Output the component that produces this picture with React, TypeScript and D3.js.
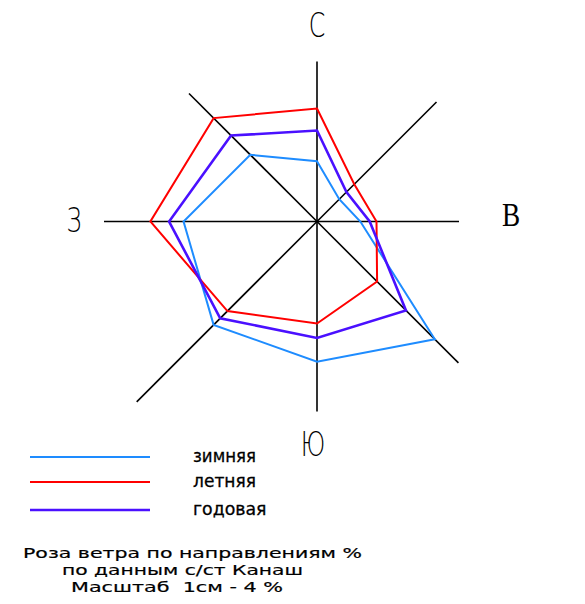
import * as d3 from "d3";

// направления румбов, по часовой стрелке от севера
const directions = ["С", "СВ", "В", "ЮВ", "Ю", "ЮЗ", "З", "СЗ"];

// повторяемость ветра, %
const winter = [7.1, 3.7, 5.1, 19.6, 16.5, 17.2, 15.7, 11.1];
const summer = [13.3, 6.2, 7.0, 10.0, 12.0, 14.9, 19.6, 17.2];
const annual = [10.7, 4.9, 6.2, 14.8, 13.7, 16.1, 17.4, 14.3];

const seriesNames = ["зимняя", "летняя", "годовая"];
const seriesColors = ["#1e8cff", "#ff0000", "#4a10ff"];
const seriesWidths = [2, 2, 2.6];

// длина осей на чертеже, px
const axisLen = [160, 169, 142, 200, 190, 255, 213, 181];

const titleLines = [
  "Роза ветра по направлениям %",
  "по данным с/ст Канаш",
  "Масштаб  1см - 4 %",
];

export default function App() {
  const w = 585,
    h = 604,
    cx = 317,
    cy = 221.5;

  const r = d3.scaleLinear().domain([0, 20]).range([0, 170]);
  const angle = d3
    .scalePoint<string>()
    .domain(directions)
    .range([0, (2 * Math.PI * 7) / 8]);

  const line = d3
    .lineRadial<number>()
    .angle((_, i) => angle(directions[i])!)
    .radius((d) => r(d))
    .curve(d3.curveLinearClosed);

  const series = [winter, summer, annual];

  const labels = [
    { t: "С", x: 317, y: 26, font: "DejaVu Sans", sx: 0.72 },
    { t: "В", x: 511, y: 215, font: "Liberation Serif", sx: 0.8 },
    { t: "Ю", x: 313, y: 445, font: "DejaVu Sans", sx: 0.72 },
    { t: "З", x: 74, y: 221, font: "DejaVu Sans", sx: 0.72 },
  ];

  const legendY = [457, 482, 510];
  const titleSpans = [
    { x: 23, y: 558, len: 339 },
    { x: 62, y: 575, len: 241 },
    { x: 71, y: 592, len: 212 },
  ];

  return (
    <svg
      width={w}
      height={h}
      style={{ position: "absolute", left: 0, top: 0, background: "#fff" }}
    >
      <g transform={`translate(${cx},${cy})`}>
        {directions.map((d, i) => {
          const a = angle(d)!;
          return (
            <line
              key={d}
              x1={0}
              y1={0}
              x2={Math.sin(a) * axisLen[i]}
              y2={-Math.cos(a) * axisLen[i]}
              stroke="#000"
              strokeWidth={1.6}
            />
          );
        })}
        {series.map((s, i) => (
          <path
            key={seriesNames[i]}
            d={line(s)!}
            fill="none"
            stroke={seriesColors[i]}
            strokeWidth={seriesWidths[i]}
            strokeLinejoin="miter"
          />
        ))}
      </g>

      {labels.map((l) => (
        <text
          key={l.t}
          transform={`translate(${l.x},${l.y}) scale(${l.sx},1)`}
          textAnchor="middle"
          dominantBaseline="central"
          fontFamily={l.font}
          fontWeight={l.font === "DejaVu Sans" ? 200 : 400}
          fontSize={l.font === "DejaVu Sans" ? 33 : 34}
          fill="#000"
        >
          {l.t}
        </text>
      ))}

      {seriesNames.map((n, i) => (
        <g key={n}>
          <line
            x1={30}
            x2={150}
            y1={legendY[i]}
            y2={legendY[i]}
            stroke={seriesColors[i]}
            strokeWidth={seriesWidths[i]}
          />
          <text
            x={193}
            y={legendY[i] + 5}
            fontFamily="DejaVu Sans"
            fontSize={17}
            fill="#000"
            stroke="#000"
            strokeWidth={0.3}
            textLength={n.length * 10.5}
            lengthAdjust="spacingAndGlyphs"
          >
            {n}
          </text>
        </g>
      ))}

      {titleLines.map((t, i) => (
        <text
          key={t}
          x={titleSpans[i].x}
          y={titleSpans[i].y}
          fontFamily="DejaVu Sans"
          fontSize={14.5}
          fill="#000"
          stroke="#000"
          strokeWidth={0.2}
          textLength={titleSpans[i].len}
          lengthAdjust="spacingAndGlyphs"
          style={{ whiteSpace: "pre" }}
        >
          {t}
        </text>
      ))}
    </svg>
  );
}
